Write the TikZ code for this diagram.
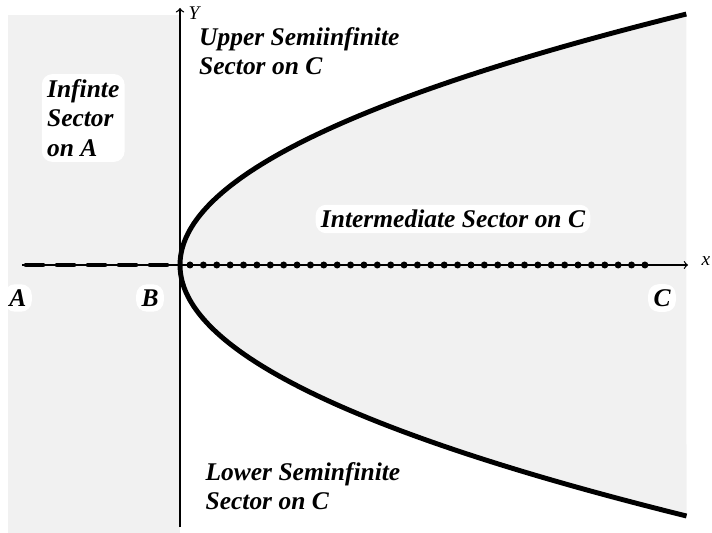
\documentclass[tikz,border=0pt]{standalone}
\usepackage{fontspec}
\setmainfont{Liberation Serif}
\definecolor{sectorgrey}{RGB}{241,241,241}
\tikzset{
  sector/.style={fill=white,rounded corners=6pt,inner sep=3pt,align=left,
    font=\fontsize{14.5}{16.8}\selectfont\bfseries\itshape},
  axislabel/.style={inner sep=1pt,font=\fontsize{11}{12}\selectfont\itshape}
}
\begin{document}
\begin{tikzpicture}
\useasboundingbox (-3.6,-5.36) rectangle (10.64,5.3);
% shaded sectors
\fill[sectorgrey] (-3.44,-5.36) rectangle (0,5);
\fill[sectorgrey] plot[domain=-5.02:5.02,samples=80] ({0.402*\x*\x},\x) -- cycle;
% axes
\draw[line width=0.7pt,-to] (-3.16,0)--(10.16,0);
\draw[line width=0.8pt,-to] (0,-5.24)--(0,5.14);
\node[axislabel] (xl) at (10.52,0.08) {x};
\node[axislabel] (yl) at (0.28,5.04) {Y};
% boundary
\draw[line width=2.8pt] plot[domain=-5.02:5.02,samples=80,smooth] ({0.402*\x*\x},\x);
\draw[line width=2.6pt,line cap=round,dash pattern=on 0.34cm off 0.28cm] (-3.08,0)--(-0.24,0);
\foreach \i in {0,...,34}
  \fill (0.2+0.2676*\i,0) circle (0.07);
% labels
\node[sector,anchor=west] (secA) at (-2.77,2.94) {Infinte\\Sector\\on A};
\node[sector,anchor=west] (upper) at (0.27,4.28) {Upper Semiinfinite\\Sector on C};
\node[sector] (inter) at (5.46,0.92) {Intermediate Sector on C};
\node[sector,anchor=west] (lower) at (0.4,-4.42) {Lower Seminfinite\\Sector on C};
\node[sector] (ptA) at (-3.24,-0.66) {A};
\node[sector] (ptB) at (-0.6,-0.66) {B};
\node[sector] (ptC) at (9.64,-0.66) {C};
\end{tikzpicture}
\end{document}
